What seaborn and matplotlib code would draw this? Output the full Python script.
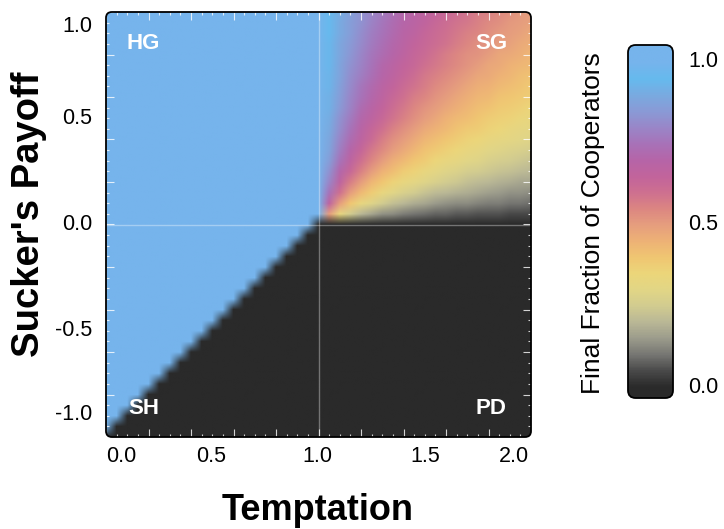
import numpy as np
import matplotlib
matplotlib.use('Agg')
import matplotlib.pyplot as plt
from matplotlib.patches import FancyBboxPatch
from matplotlib.ticker import MultipleLocator
import seaborn as sns

# parameter grid, step 0.05
T_grid = np.round(np.arange(0, 2.001, 0.05), 2)
S_grid = np.round(np.arange(-1, 1.001, 0.05), 2)

hg_value = 1.0   # harmony game: all cooperators
pd_value = 0.0   # prisoner's dilemma: all defectors

# stag hunt rows S = -1.00 ... -0.05: how many cells (from T = 0) end up cooperating
sh_coop_cells = [0, 1, 2, 3, 4, 5, 6, 7, 8, 9, 10, 11, 12, 13, 14, 15, 16, 17, 18, 19]

# snowdrift block: rows S = 0.00 ... 1.00, columns T = 1.00 ... 2.00
sg_values = [
    [0, 0, 0, 0, 0, 0, 0, 0, 0, 0, 0, 0, 0, 0, 0, 0, 0, 0, 0, 0, 0],
    [1, .50, .33, .25, .20, .17, .14, .13, .11, .10, .09, .08, .08, .07, .07, .06, .06, .06, .05, .05, .05],
    [1, .67, .50, .40, .33, .29, .25, .22, .20, .18, .17, .15, .14, .13, .13, .12, .11, .11, .10, .10, .09],
    [1, .75, .60, .50, .43, .38, .33, .30, .27, .25, .23, .21, .20, .19, .18, .17, .16, .15, .14, .14, .13],
    [1, .80, .67, .57, .50, .44, .40, .36, .33, .31, .29, .27, .25, .24, .22, .21, .20, .19, .18, .17, .17],
    [1, .83, .71, .63, .56, .50, .45, .42, .38, .36, .33, .31, .29, .28, .26, .25, .24, .23, .22, .21, .20],
    [1, .86, .75, .67, .60, .55, .50, .46, .43, .40, .38, .35, .33, .32, .30, .29, .27, .26, .25, .24, .23],
    [1, .88, .78, .70, .64, .58, .54, .50, .47, .44, .41, .39, .37, .35, .33, .32, .30, .29, .28, .27, .26],
    [1, .89, .80, .73, .67, .62, .57, .53, .50, .47, .44, .42, .40, .38, .36, .35, .33, .32, .31, .30, .29],
    [1, .90, .82, .75, .69, .64, .60, .56, .53, .50, .47, .45, .43, .41, .39, .38, .36, .35, .33, .32, .31],
    [1, .91, .83, .77, .71, .67, .63, .59, .56, .53, .50, .48, .45, .43, .42, .40, .38, .37, .36, .34, .33],
    [1, .92, .85, .79, .73, .69, .65, .61, .58, .55, .52, .50, .48, .46, .44, .42, .41, .39, .38, .37, .35],
    [1, .92, .86, .80, .75, .71, .67, .63, .60, .57, .55, .52, .50, .48, .46, .44, .43, .41, .40, .39, .38],
    [1, .93, .87, .81, .76, .72, .68, .65, .62, .59, .57, .54, .52, .50, .48, .46, .45, .43, .42, .41, .39],
    [1, .93, .88, .82, .78, .74, .70, .67, .64, .61, .58, .56, .54, .52, .50, .48, .47, .45, .44, .42, .41],
    [1, .94, .88, .83, .79, .75, .71, .68, .65, .63, .60, .58, .56, .54, .52, .50, .48, .47, .45, .44, .43],
    [1, .94, .89, .84, .80, .76, .73, .70, .67, .64, .62, .59, .57, .55, .53, .52, .50, .48, .47, .46, .44],
    [1, .94, .89, .85, .81, .77, .74, .71, .68, .65, .63, .61, .59, .57, .55, .53, .52, .50, .49, .47, .46],
    [1, .95, .90, .86, .82, .78, .75, .72, .69, .67, .64, .62, .60, .58, .56, .55, .53, .51, .50, .49, .47],
    [1, .95, .90, .86, .83, .79, .76, .73, .70, .68, .66, .63, .61, .59, .58, .56, .54, .53, .51, .50, .49],
    [1, .95, .91, .87, .83, .80, .77, .74, .71, .69, .67, .65, .63, .61, .59, .57, .56, .54, .53, .51, .50],
]

# colour stops for 0.00, 0.05, ..., 1.00
cmap_colors = ['#2a2a2a', '#4a4a4a', '#777773', '#9c9c8c', '#bab896', '#d2cc90', '#e2d686',
               '#ecd67a', '#f0c672', '#eeb276', '#e69e7e', '#dc8682', '#ce7090', '#c2649c',
               '#b665a8', '#a872b8', '#9a86c8', '#8a9ad6', '#7aaae0', '#66baee', '#76b4ec']

x_ticklabels = ['0.0', '0.5', '1.0', '1.5', '2.0']
y_ticklabels = ['-1.0', '-0.5', '0.0', '0.5', '1.0']
cbar_ticklabels = ['0.0', '0.5', '1.0']

sns.set_style('white')
plt.rcParams['font.family'] = ['Liberation Sans', 'DejaVu Sans']
plt.rcParams['text.color'] = 'black'
cmap = sns.blend_palette(cmap_colors, as_cmap=True)

# assemble the grid
nS, nT = len(S_grid), len(T_grid)
i0 = int(np.where(S_grid == 0)[0][0])
j1 = int(np.where(T_grid == 1)[0][0])
Z = np.full((nS, nT), pd_value)
Z[i0 + 1:, :j1 + 1] = hg_value
Z[i0, :j1] = hg_value
Z[i0:, j1:] = np.array(sg_values)
for i, k in enumerate(sh_coop_cells):
    Z[i, :k] = hg_value

fig = plt.figure(figsize=(7.24, 5.29), dpi=100)
W, H = 724, 529
ax = fig.add_axes([106 / W, 1 - 437 / H, 425 / W, 425 / H])

dT = T_grid[1] - T_grid[0]
dS = S_grid[1] - S_grid[0]
im = ax.imshow(Z, origin='lower', cmap=cmap, vmin=0, vmax=1, interpolation='bilinear',
               interpolation_stage='rgba',
               extent=[T_grid[0] - dT / 2, T_grid[-1] + dT / 2, S_grid[0] - dS / 2, S_grid[-1] + dS / 2],
               aspect='auto')
ax.set_xlim(0, 2)
ax.set_ylim(-1, 1)

frame = FancyBboxPatch((0, 0), 1, 1, boxstyle='round,pad=0,rounding_size=0.014',
                       transform=ax.transAxes, fill=False, ec='black', lw=1.3,
                       zorder=6, clip_on=False)
ax.add_patch(frame)
im.set_clip_path(frame)
for sp in ax.spines.values():
    sp.set_visible(False)

ax.axvline(1, color='white', alpha=0.35, lw=1)
ax.axhline(0, color='white', alpha=0.35, lw=1)

ax.xaxis.set_major_locator(MultipleLocator(0.2))
ax.xaxis.set_minor_locator(MultipleLocator(0.05))
ax.yaxis.set_major_locator(MultipleLocator(0.2))
ax.yaxis.set_minor_locator(MultipleLocator(0.05))
ax.tick_params(which='both', direction='in', top=True, right=True, bottom=True, left=True,
               labelbottom=False, labelleft=False, color=(1, 1, 1, 0.8), width=0.8)
ax.tick_params(which='major', length=5.5)
ax.tick_params(which='minor', length=2.3)

# tick labels
xt = ax.get_xaxis_transform()
x_pos = [0.0, 0.494, 0.993, 1.5, 1.99]
x_ha = ['left', 'center', 'center', 'center', 'right']
for p, lab, ha in zip(x_pos, x_ticklabels, x_ha):
    ax.text(p, -0.047, lab, transform=xt, ha=ha, va='center', fontsize=15.5)
yt = ax.get_yaxis_transform()
y_pos = [-0.894, -0.5, 0.0, 0.5, 0.931]
for p, lab in zip(y_pos, y_ticklabels):
    ax.text(-0.033, p, lab, transform=yt, ha='right', va='center', fontsize=15.5)

# region names
for (px, py), name in zip([(0.088, 0.926), (0.906, 0.926), (0.088, 0.068), (0.906, 0.068)],
                          ['HG', 'SG', 'SH', 'PD']):
    ax.text(px, py, name, transform=ax.transAxes, ha='center', va='center',
            color='white', fontsize=16, fontweight='bold')

fig.text(318 / W, 1 - 520 / H, 'Temptation', ha='center', va='baseline',
         fontsize=26, fontweight='bold')
fig.text(29 / W, 1 - 214 / H, "Sucker's Payoff", ha='center', va='center', rotation=90,
         fontsize=27.5, fontweight='bold')

# colour bar
cax = fig.add_axes([628 / W, 1 - 398 / H, 45 / W, 353 / H])
lo, hi = -0.031, 1.052
grad = np.linspace(lo, hi, 400).reshape(-1, 1)
cim = cax.imshow(grad, origin='lower', cmap=cmap, vmin=0, vmax=1, aspect='auto',
                 extent=[0, 1, lo, hi], interpolation='bilinear')
cax.set_xlim(0, 1)
cax.set_ylim(lo, hi)
cframe = FancyBboxPatch((0, lo), 1, hi - lo, boxstyle='round,pad=0,rounding_size=0.17',
                        mutation_aspect=(45 / 353) * (hi - lo), fc='none', ec='black',
                        lw=1.3, zorder=6, clip_on=False)
cax.add_patch(cframe)
cim.set_clip_path(cframe)
cax.set_axis_off()
for v, lab in zip([0.0, 0.5, 1.0], cbar_ticklabels):
    cax.text(688 / 45 - 628 / 45, v, lab, ha='left', va='center', fontsize=15.5,
             transform=cax.get_yaxis_transform())
fig.text(593 / W, 1 - 223 / H, 'Final Fraction of Cooperators', ha='center', va='center',
         rotation=90, fontsize=19)

fig.savefig('out.png', dpi=100)
